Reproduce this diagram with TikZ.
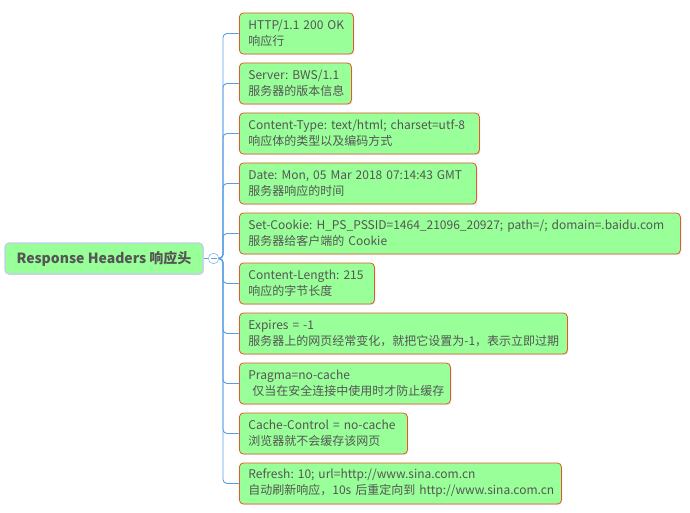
\documentclass[tikz,border=0pt]{standalone}
\usepackage{fontspec}
\setmainfont{Noto Sans CJK SC}
\frenchspacing
\usetikzlibrary{positioning,shadows}

\definecolor{leaf}{HTML}{99FF99}
\definecolor{leafline}{HTML}{E8562A}
\definecolor{rootline}{HTML}{C3CBEE}
\definecolor{branchblue}{HTML}{5A9EE6}
\definecolor{inkgray}{HTML}{555555}

% two unbreakable lines: field, then its meaning
\newcommand{\fieldtext}[2]{\mbox{#1}\\\mbox{#2}}

\begin{document}
\begin{tikzpicture}[
    x=1pt, y=-1pt,
    root/.style={rectangle, draw=rootline, line width=1.2pt, fill=leaf, rounded corners=4pt, minimum width=198pt, minimum height=31pt, text=inkgray, font=\fontsize{14}{16}\selectfont\bfseries, drop shadow={shadow xshift=1pt, shadow yshift=-1pt, opacity=0.2}},
    item/.style={rectangle, draw=leafline, line width=0.8pt, fill=leaf, rounded corners=4pt, minimum height=41pt, text width=#1, inner xsep=9pt, inner ysep=2pt, align=left, text=inkgray, font=\fontsize{12}{16}\selectfont, drop shadow={shadow xshift=1pt, shadow yshift=-1pt, opacity=0.2}},
    knob/.style={circle, draw=branchblue, fill=white, minimum size=10.5pt, inner sep=0pt},
    branch/.style={draw=branchblue, line width=0.9pt, rounded corners=4pt}
]
\useasboundingbox (0,0) rectangle (690,513);

% Root
\node[root] (rootbox) at (104,258.5) {Response Headers 响应头};
\node[knob, right=4.5pt of rootbox] (knob) {};
\draw[branchblue, line width=0.8pt] ([xshift=2.5pt]knob.west) -- ([xshift=-2.5pt]knob.east);

% Header fields
\node[item=96pt, anchor=west] (status) at (239,33.5) {\fieldtext{HTTP/1.1 200 OK}{响应行}};
\node[item=94pt, below=8.2pt of status.south west, anchor=north west] (server) {\fieldtext{Server: BWS/1.1}{服务器的版本信息}};
\node[item=222pt, below=8.2pt of server.south west, anchor=north west] (ctype) {\fieldtext{Content-Type: text/html; charset=utf-8}{响应体的类型以及编码方式}};
\node[item=219pt, below=8.2pt of ctype.south west, anchor=north west] (date) {\fieldtext{Date: Mon, 05 Mar 2018 07:14:43 GMT}{服务器响应的时间}};
\node[item=423pt, below=8.2pt of date.south west, anchor=north west] (cookie) {\fieldtext{Set-Cookie: H\_PS\_PSSID=1464\_21096\_20927; path=/; domain=.baidu.com}{服务器给客户端的 Cookie}};
\node[item=117pt, below=8.2pt of cookie.south west, anchor=north west] (clength) {\fieldtext{Content-Length: 215}{响应的字节长度}};
\node[item=310pt, below=8.2pt of clength.south west, anchor=north west] (expires) {\fieldtext{Expires = -1}{服务器上的网页经常变化，就把它设置为-1，表示立即过期}};
\node[item=193pt, below=8.2pt of expires.south west, anchor=north west] (pragma) {\fieldtext{Pragma=no-cache}{\hspace*{4pt}仅当在安全连接中使用时才防止缓存}};
\node[item=150pt, below=8.2pt of pragma.south west, anchor=north west] (cache) {\fieldtext{Cache-Control = no-cache}{浏览器就不会缓存该网页}};
\node[item=304pt, below=8.2pt of cache.south west, anchor=north west] (refresh) {\fieldtext{Refresh: 10; url=http://www.sina.com.cn}{自动刷新响应，10s 后重定向到 http://www.sina.com.cn}};

% Branches
\draw[branch] (rootbox) -- (knob);
\foreach \field in {status,server,ctype,date,cookie,clength,expires,pragma,cache,refresh}
  \draw[branch] (knob.east) -- ++(4,0) |- (\field.west);

\end{tikzpicture}
\end{document}
